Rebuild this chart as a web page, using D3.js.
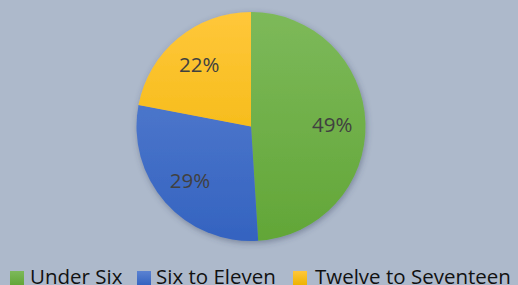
<!DOCTYPE html>
<html>
<head>
<meta charset="utf-8">
<script src="https://cdn.jsdelivr.net/npm/d3@7"></script>
<style>
  html, body { margin: 0; padding: 0; background: #adb9cb; }
  svg { display: block; }
</style>
</head>
<body>
<div id="chart"></div>
<script>
// chart data
const categories = ["Under Six", "Six to Eleven", "Twelve to Seventeen"];
const shares = [49, 29, 22];

const width = 518;
const height = 285;
const cx = 251;
const cy = 126.5;
const radius = 114.5;

// slice colours, light at the top and dark at the bottom
const colorTop = ["#7db95a", "#5b82d2", "#ffc73a"];
const colorBottom = ["#62a637", "#3463c0", "#eeb300"];

const svg = d3
  .select("#chart")
  .append("svg")
  .attr("width", width)
  .attr("height", height);

const defs = svg.append("defs");

const shadow = defs
  .append("filter")
  .attr("id", "shadow")
  .attr("x", "-20%")
  .attr("y", "-20%")
  .attr("width", "140%")
  .attr("height", "140%");
shadow
  .append("feDropShadow")
  .attr("dx", 1)
  .attr("dy", 2)
  .attr("stdDeviation", 3)
  .attr("flood-color", "#3a4660")
  .attr("flood-opacity", 0.45);

categories.forEach((c, i) => {
  const g = defs
    .append("linearGradient")
    .attr("id", "grad" + i)
    .attr("gradientUnits", "userSpaceOnUse")
    .attr("x1", 0)
    .attr("y1", -radius)
    .attr("x2", 0)
    .attr("y2", radius);
  g.append("stop").attr("offset", "0%").attr("stop-color", colorTop[i]);
  g.append("stop").attr("offset", "100%").attr("stop-color", colorBottom[i]);

  const lg = defs
    .append("linearGradient")
    .attr("id", "lgrad" + i)
    .attr("x1", 0)
    .attr("y1", 0)
    .attr("x2", 0)
    .attr("y2", 1);
  lg.append("stop").attr("offset", "0%").attr("stop-color", colorTop[i]);
  lg.append("stop").attr("offset", "100%").attr("stop-color", colorBottom[i]);
});

const pie = d3.pie().sort(null).value((d) => d);
const arcs = pie(shares);

const arc = d3.arc().innerRadius(0).outerRadius(radius);
const labelArc = d3
  .arc()
  .innerRadius(radius * 0.71)
  .outerRadius(radius * 0.71);

const pieG = svg.append("g").attr("transform", `translate(${cx},${cy})`);

pieG
  .append("g")
  .attr("filter", "url(#shadow)")
  .selectAll("path")
  .data(arcs)
  .join("path")
  .attr("d", arc)
  .attr("fill", (d, i) => `url(#grad${i})`);

pieG
  .append("g")
  .selectAll("text")
  .data(arcs)
  .join("text")
  .attr("transform", (d) => `translate(${labelArc.centroid(d)})`)
  .attr("text-anchor", "middle")
  .attr("dominant-baseline", "central")
  .attr("font-family", "'Open Sans', sans-serif")
  .attr("font-size", 20.5)
  .attr("fill", "#404040")
  .text((d) => d.value + "%");

// legend
const legendX = [10, 137, 293];
const legend = svg
  .append("g")
  .selectAll("g")
  .data(categories)
  .join("g")
  .attr("transform", (d, i) => `translate(${legendX[i]},0)`);

legend
  .append("rect")
  .attr("x", 0)
  .attr("y", 271)
  .attr("width", 14)
  .attr("height", 14)
  .attr("fill", (d, i) => `url(#lgrad${i})`);

legend
  .append("text")
  .attr("x", (d, i) => [20, 19, 22][i])
  .attr("y", 284)
  .attr("font-family", "'Open Sans', sans-serif")
  .attr("font-size", 20.5)
  .attr("fill", "#111")
  .text((d) => d);
</script>
</body>
</html>
